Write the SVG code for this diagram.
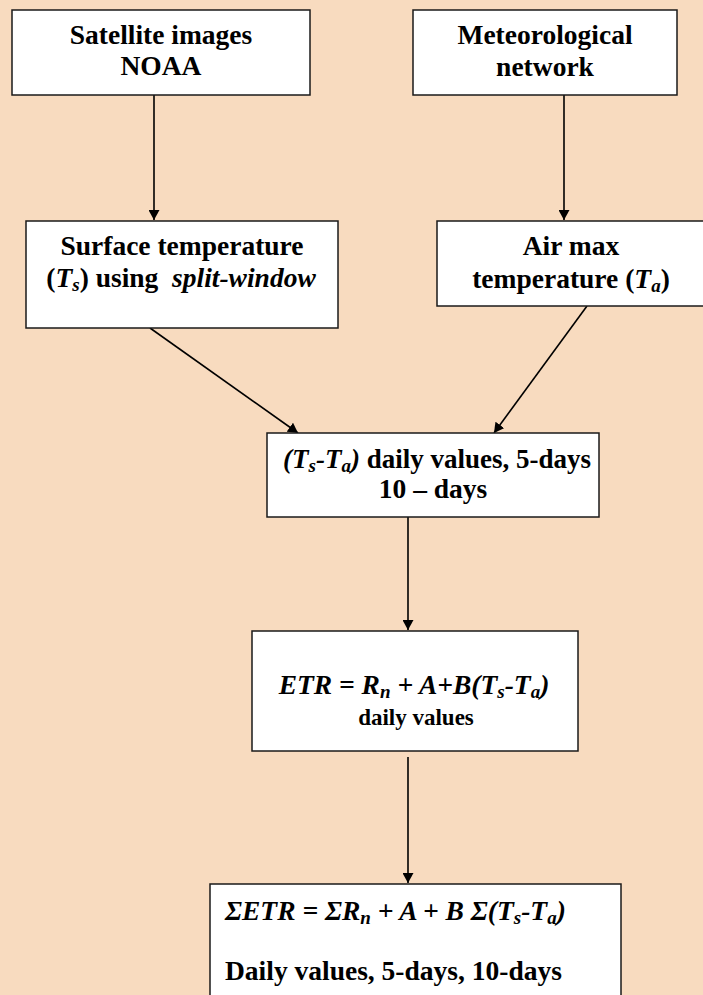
<svg xmlns="http://www.w3.org/2000/svg" width="703" height="995" viewBox="0 0 703 995">
  <style>
    .box { fill: #ffffff; stroke: #1a1a1a; stroke-width: 1.5; }
    .t { font-family: "Liberation Serif", "Times New Roman", serif; font-weight: bold; font-size: 27.5px; fill: #000; text-anchor: middle; }
    .tl { font-family: "Liberation Serif", "Times New Roman", serif; font-weight: bold; font-size: 27.5px; fill: #000; }
    .it { font-style: italic; }
    .sub { font-size: 19px; font-style: italic; }
    .small { font-size: 23px; }
    .conn { stroke: #000; stroke-width: 1.6; fill: none; marker-end: url(#arrow); }
  </style>
  <defs>
    <marker id="arrow" viewBox="0 0 10 11" refX="10" refY="5.5" markerWidth="10" markerHeight="11" markerUnits="userSpaceOnUse" orient="auto">
      <path d="M0,0 L10,5.5 L0,11 Z" fill="#000"/>
    </marker>
  </defs>

  <rect width="703" height="995" fill="#F8DBBF"/>

  <g id="connectors">
    <line class="conn" x1="154" y1="95" x2="154" y2="220"/>
    <line class="conn" x1="564" y1="95" x2="564" y2="220"/>
    <line class="conn" x1="150" y1="328" x2="298" y2="433"/>
    <line class="conn" x1="587" y1="306" x2="494" y2="433"/>
    <line class="conn" x1="408" y1="517" x2="408" y2="630"/>
    <line class="conn" x1="408" y1="757" x2="408" y2="883"/>
  </g>

  <g id="satellite">
    <rect class="box" x="12" y="10" width="298" height="85"/>
    <text class="t" x="161" y="44">Satellite images</text>
    <text class="t" x="161" y="75">NOAA</text>
  </g>

  <g id="meteo">
    <rect class="box" x="413" y="10" width="264" height="85"/>
    <text class="t" x="545" y="44">Meteorological</text>
    <text class="t" x="545" y="76">network</text>
  </g>

  <g id="surface">
    <rect class="box" x="26" y="221" width="312" height="107"/>
    <text class="t" x="182" y="255">Surface temperature</text>
    <text class="t" x="181" y="287">(<tspan class="it">T</tspan><tspan class="sub" dy="4">s</tspan><tspan dy="-4">) using &#160;</tspan><tspan class="it">split-window</tspan></text>
  </g>

  <g id="airmax">
    <rect class="box" x="437" y="221" width="268" height="85"/>
    <text class="t" x="571" y="255">Air max</text>
    <text class="t" x="571" y="288">temperature (<tspan class="it">T</tspan><tspan class="sub" dy="4">a</tspan><tspan dy="-4">)</tspan></text>
  </g>

  <g id="difference">
    <rect class="box" x="267" y="433" width="332" height="84"/>
    <text class="t" x="437" y="468" style="font-size:27px"><tspan class="it">(T</tspan><tspan class="sub" dy="4">s</tspan><tspan class="it" dy="-4">-T</tspan><tspan class="sub" dy="4">a</tspan><tspan class="it" dy="-4">)</tspan> daily values, 5-days</text>
    <text class="t" x="433" y="498">10 – days</text>
  </g>

  <g id="etr-daily">
    <rect class="box" x="252" y="631" width="326" height="120"/>
    <text class="t it" x="414" y="694">ETR = R<tspan class="sub" dy="4">n</tspan><tspan dy="-4"> + A+B(T</tspan><tspan class="sub" dy="4">s</tspan><tspan dy="-4">-T</tspan><tspan class="sub" dy="4">a</tspan><tspan dy="-4">)</tspan></text>
    <text class="t small" x="416" y="725">daily values</text>
  </g>

  <g id="etr-sum">
    <rect class="box" x="210" y="884" width="411" height="120"/>
    <text class="tl it" x="225" y="920">ΣETR = ΣR<tspan class="sub" dy="4">n</tspan><tspan dy="-4"> + A + B Σ(T</tspan><tspan class="sub" dy="4">s</tspan><tspan dy="-4">-T</tspan><tspan class="sub" dy="4">a</tspan><tspan dy="-4">)</tspan></text>
    <text class="tl" x="225" y="980">Daily values, 5-days, 10-days</text>
  </g>
</svg>
